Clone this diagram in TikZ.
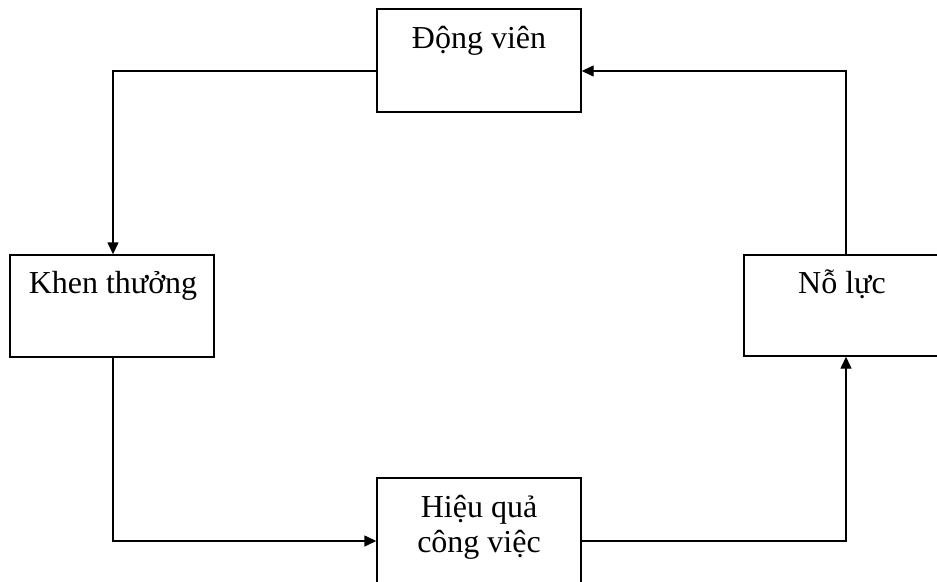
\documentclass[tikz,border=0pt]{standalone}
\usepackage{fontspec}
\setmainfont{Liberation Serif}
\usetikzlibrary{arrows.meta}
\begin{document}
\begin{tikzpicture}[x=1pt,y=-1pt,
  boxst/.style={draw,line width=1.4pt,rectangle,inner sep=0pt},
  txt/.style={anchor=base,inner sep=0pt,font=\fontsize{32}{35}\selectfont},
  conn/.style={line width=1.4pt,-{Triangle[length=12pt,width=11pt]}}]
\useasboundingbox (0,0) rectangle (937,581);
\fill[white] (0,0) rectangle (937,581);
% boxes
\node[boxst,minimum width=204pt,minimum height=103pt] (dv) at (479,60.5) {};
\node[boxst,minimum width=204pt,minimum height=102pt] (kt) at (112,306) {};
\node[boxst,minimum width=196pt,minimum height=101pt] (nl) at (842,305.5) {};
\node[boxst,minimum width=204pt,minimum height=105pt] (hq) at (479,530.5) {};
% texts
\node[txt] (tdv) at (479,48) {Động viên};
\node[txt] (tkt) at (113,293) {Khen thưởng};
\node[txt] (tnl) at (842,293) {Nỗ lực};
\node[txt] (thq1) at (479,517) {Hiệu quả};
\node[txt] (thq2) at (479,552) {công việc};
% connectors
\coordinate (a1) at (113,71);
\coordinate (a2) at (113,541);
\coordinate (a3) at (846,541);
\coordinate (a4) at (846,71);
\draw[conn] (dv.west |- a1) -- (a1) -- (a1 |- kt.north);
\draw[conn] (a1 |- kt.south) -- (a2) -- (a2 -| hq.west);
\draw[conn] (a2 -| hq.east) -- (a3) -- (a3 |- nl.south);
\draw[conn] (a3 |- nl.north) -- (a4) -- (a4 -| dv.east);
\end{tikzpicture}
\end{document}
